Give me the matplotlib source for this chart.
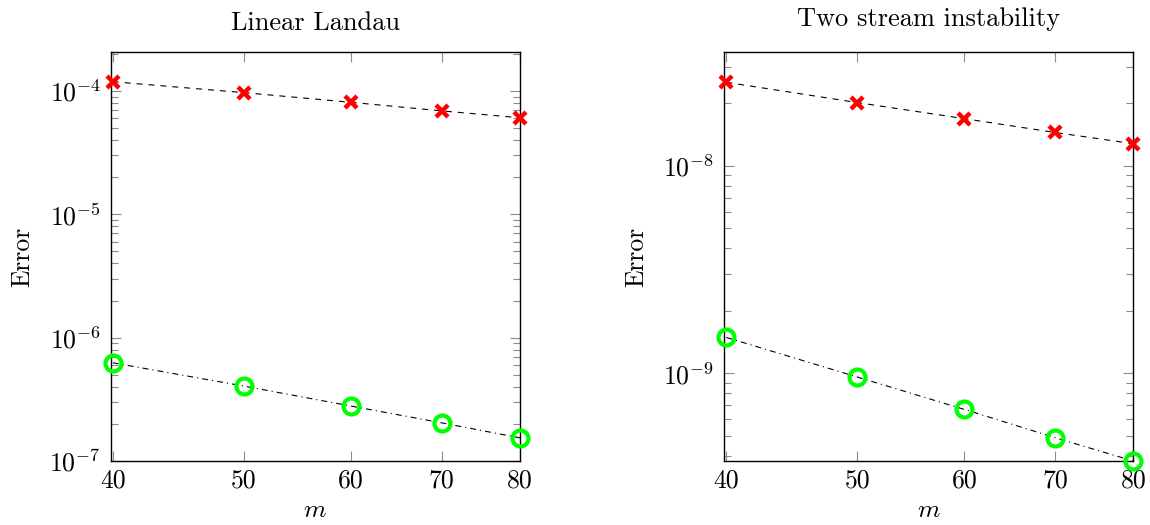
import numpy as np
import matplotlib
matplotlib.use("Agg")
import matplotlib.pyplot as plt
from matplotlib.ticker import NullLocator, NullFormatter, FixedLocator, FixedFormatter

plt.rcParams["font.family"] = "serif"
plt.rcParams["font.serif"] = ["cmr10"]
plt.rcParams["mathtext.fontset"] = "cm"
plt.rcParams["axes.unicode_minus"] = False
plt.rcParams["axes.formatter.use_mathtext"] = True
plt.rcParams["lines.scale_dashes"] = False

m = [40, 50, 60, 70, 80]
m_ticks = ["40", "50", "60", "70", "80"]

# Linear Landau
landau_red = [1.19e-4, 0.97e-4, 8.1e-5, 6.9e-5, 6.07e-5]
landau_green = [6.26e-7, 4.05e-7, 2.79e-7, 2.04e-7, 1.54e-7]

# Two stream instability
twostream_red = [2.53e-8, 2.02e-8, 1.69e-8, 1.45e-8, 1.28e-8]
twostream_green = [1.49e-9, 9.6e-10, 6.7e-10, 4.9e-10, 3.78e-10]

fig = plt.figure(figsize=(11.5, 5.25), dpi=100)
W, H = 1150, 525
ax1 = fig.add_axes([110.7 / W, 64 / H, 409.3 / W, 408.7 / H])
ax2 = fig.add_axes([724.3 / W, 64 / H, 409.0 / W, 408.7 / H])


def draw(ax, red, green, title, ylim, title_pad):
    ax.set_xscale("log")
    ax.set_yscale("log")
    ax.plot(m, red, color="black", lw=0.8, dashes=(4.3, 4.3), zorder=2)
    ax.plot(m, green, color="black", lw=0.8, dashes=(4.3, 2.9, 0.8, 2.9), zorder=2)
    ax.plot(m, red, ls="none", marker="x", ms=8.5, mew=3.2, color="#ff0000",
            clip_on=False, zorder=3)
    ax.plot(m, green, ls="none", marker="o", ms=11.5, mew=3.0, mfc="none",
            mec="#00ff00", clip_on=False, zorder=3)
    ax.set_xlim(39.86, 80)
    ax.set_ylim(*ylim)
    ax.xaxis.set_major_locator(FixedLocator(m))
    ax.xaxis.set_major_formatter(FixedFormatter(m_ticks))
    ax.xaxis.set_minor_locator(NullLocator())
    ax.yaxis.set_minor_formatter(NullFormatter())
    ax.xaxis.get_offset_text().set_visible(False)
    ax.yaxis.get_offset_text().set_visible(False)
    ax.tick_params(which="both", direction="in", top=True, right=True,
                   color="0.55", width=0.8)
    ax.tick_params(which="major", length=7, labelsize=18.5, pad=7)
    ax.tick_params(which="minor", length=5)
    ax.tick_params(axis="x", which="major", pad=5.5)
    for s in ax.spines.values():
        s.set_linewidth(1.0)
    ax.set_xlabel("$m$", fontsize=18.5, labelpad=4)
    ax.set_ylabel("Error", fontsize=18.5, labelpad=11)
    ax.set_title(title, fontsize=19, pad=title_pad)


draw(ax1, landau_red, landau_green, "Linear Landau", (1e-7, 2.06e-4), 16)
draw(ax2, twostream_red, twostream_green, "Two stream instability",
     (3.78e-10, 3.53e-8), 19)

fig.savefig("out.png", dpi=100)
